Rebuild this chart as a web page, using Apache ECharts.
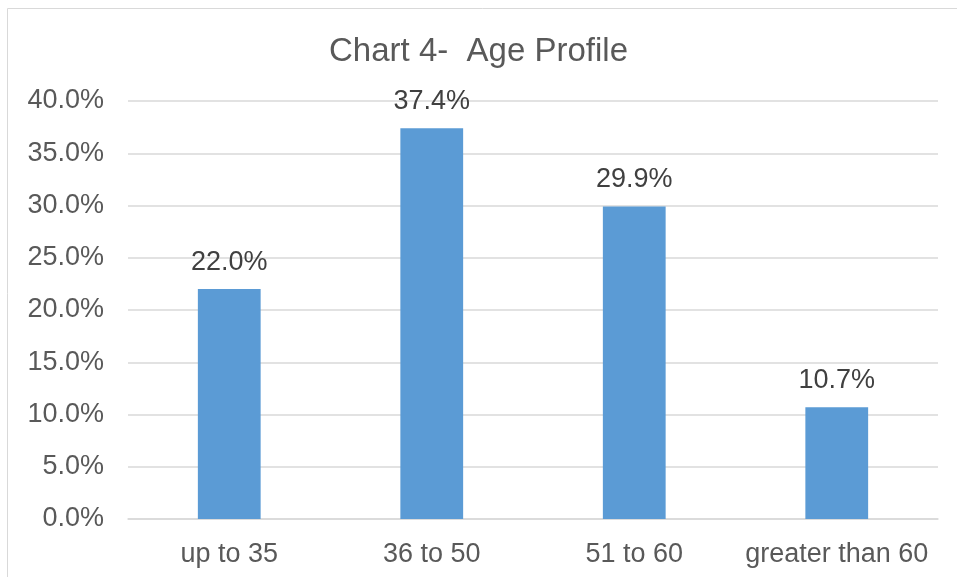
<!DOCTYPE html>
<html>
<head>
<meta charset="utf-8">
<style>
  html, body { margin: 0; padding: 0; background: #fff; }
  #chart { width: 957px; height: 577px; }
</style>
<script src="https://cdn.jsdelivr.net/npm/echarts@6/dist/echarts.min.js"></script>
</head>
<body>
<div id="chart"></div>
<script>
// 年龄分组
var categories = ['up to 35', '36 to 50', '51 to 60', 'greater than 60']
// 百分比
var values = [22.0, 37.4, 29.9, 10.7]

var chart = echarts.init(document.getElementById('chart'))
chart.setOption({
  animation: false,
  textStyle: { fontFamily: 'Liberation Sans, Arial, sans-serif' },
  title: {
    text: 'Chart 4-  Age Profile',
    left: 'center',
    top: 30,
    textStyle: { fontSize: 33, fontWeight: 'normal', color: '#595959' }
  },
  // 外框
  graphic: [{
    type: 'rect',
    shape: { x: 7.5, y: 8.5, width: 2000, height: 2000 },
    style: { fill: 'none', stroke: '#d9d9d9', lineWidth: 1 },
    silent: true
  }],
  grid: { left: 128, right: 19, top: 101, bottom: 58 },
  xAxis: {
    type: 'category',
    data: categories,
    axisTick: { show: false },
    axisLine: { lineStyle: { color: '#d9d9d9', width: 1.5 } },
    axisLabel: { color: '#595959', fontSize: 27, margin: 22, interval: 0, hideOverlap: false }
  },
  yAxis: {
    type: 'value',
    min: 0,
    max: 40,
    interval: 5,
    axisLine: { show: false },
    axisTick: { show: false },
    splitLine: { lineStyle: { color: '#d9d9d9', width: 1.5 } },
    axisLabel: {
      color: '#595959',
      fontSize: 27,
      margin: 24,
      formatter: function(v) { return v.toFixed(1) + '%' }
    }
  },
  series: [{
    type: 'bar',
    data: values,
    barWidth: '31%',
    itemStyle: { color: '#5b9bd5' },
    label: {
      show: true,
      position: 'top',
      distance: 13,
      color: '#404040',
      fontSize: 27,
      formatter: function(p) { return p.value.toFixed(1) + '%' }
    }
  }]
})
</script>
</body>
</html>
